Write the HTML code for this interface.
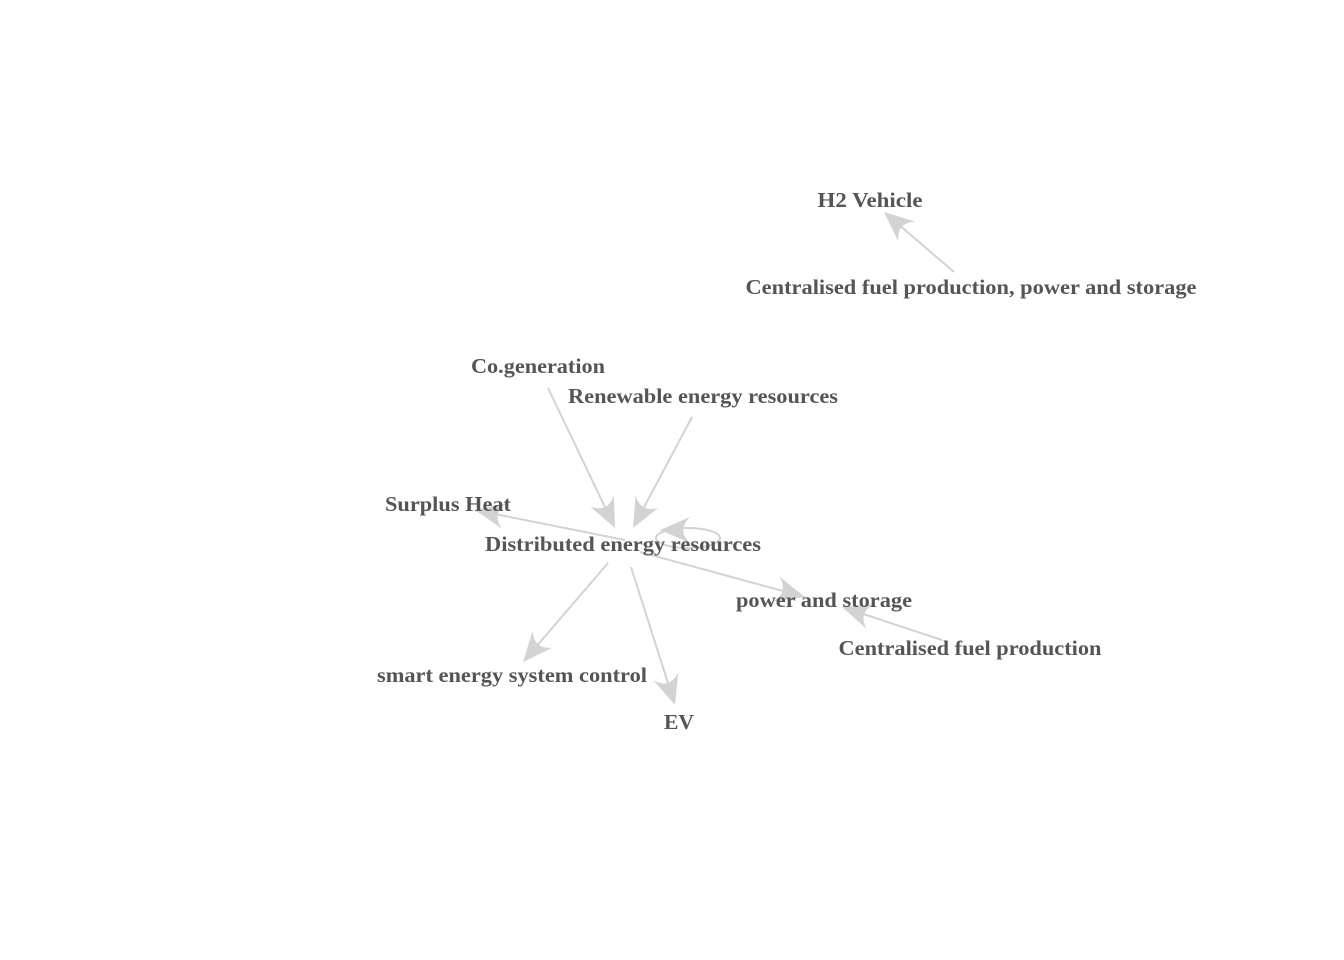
<!DOCTYPE html>
<html><head><meta charset="utf-8"><style>
html,body{margin:0;padding:0;background:#fff;}
svg{display:block}
text{font-family:"Liberation Serif",serif;font-weight:bold;font-size:21px;fill:#555;text-anchor:middle;dominant-baseline:central}
</style></head><body>
<svg id="s" width="1344" height="960" xmlns="http://www.w3.org/2000/svg">
<g id="e" stroke="#d3d3d3" stroke-width="2" fill="none"></g>
<g id="h" fill="#d3d3d3"></g>
<ellipse cx="688" cy="538" rx="32" ry="10" stroke="#d3d3d3" stroke-width="2" fill="none"/>
<text x="870" y="200" textLength="105" lengthAdjust="spacingAndGlyphs">H2 Vehicle</text>
<text x="971" y="287" textLength="451" lengthAdjust="spacingAndGlyphs">Centralised fuel production, power and storage</text>
<text x="538" y="366" textLength="134" lengthAdjust="spacingAndGlyphs">Co.generation</text>
<text x="703" y="396" textLength="270" lengthAdjust="spacingAndGlyphs">Renewable energy resources</text>
<text x="448" y="504" textLength="126" lengthAdjust="spacingAndGlyphs">Surplus Heat</text>
<text x="623" y="544" textLength="276" lengthAdjust="spacingAndGlyphs">Distributed energy resources</text>
<text x="824" y="600" textLength="176" lengthAdjust="spacingAndGlyphs">power and storage</text>
<text x="970" y="648" textLength="263" lengthAdjust="spacingAndGlyphs">Centralised fuel production</text>
<text x="512" y="675" textLength="270" lengthAdjust="spacingAndGlyphs">smart energy system control</text>
<text x="679" y="722" textLength="30" lengthAdjust="spacingAndGlyphs">EV</text>
</svg>
<script>
var E=[[548,388,615,528],[692,417,633,528],[625,540,475,510],[640,552,805,597],[608,563,523,662],[631,567,675,705],[942,640,842,607],[954,272,884,212],[700,530,660,530]];
var ns="http://www.w3.org/2000/svg",ge=document.getElementById('e'),gh=document.getElementById('h');
E.forEach(function(a,i){
 var x1=a[0],y1=a[1],x2=a[2],y2=a[3],dx=x2-x1,dy=y2-y1,L=Math.hypot(dx,dy),ux=dx/L,uy=dy/L,px=-uy,py=ux;
 var len=30,w=13;
 var bx=x2-ux*len,by=y2-uy*len;
 if(i<8){var l=document.createElementNS(ns,'line');l.setAttribute('x1',x1);l.setAttribute('y1',y1);l.setAttribute('x2',x2-ux*10);l.setAttribute('y2',y2-uy*10);ge.appendChild(l);}
 var p1x=bx+px*w,p1y=by+py*w,p2x=bx-px*w,p2y=by-py*w,cx=x2-ux*len*0.55,cy=y2-uy*len*0.55;
 var p=document.createElementNS(ns,'path');
 p.setAttribute('d','M'+x2+','+y2+' L'+p1x+','+p1y+' Q'+cx+','+cy+' '+p2x+','+p2y+' Z');
 gh.appendChild(p);
});
</script>
</body></html>
